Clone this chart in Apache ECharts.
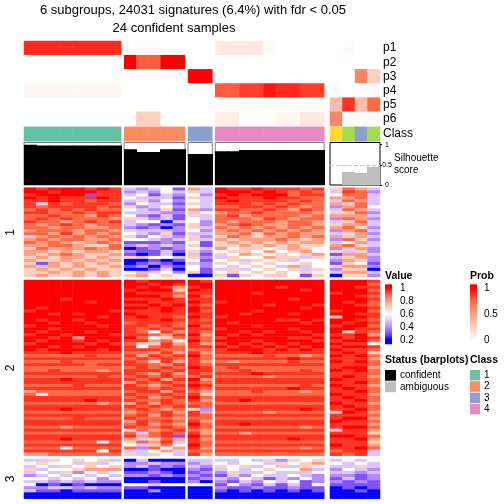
<!DOCTYPE html>
<html><head><meta charset="utf-8">
<script src="https://cdn.jsdelivr.net/npm/echarts@6/dist/echarts.min.js"></script>
<style>html,body{margin:0;padding:0;background:#fff}#c{width:504px;height:504px}</style>
</head><body><div id="c"></div>
<script>
// ---------------- DATA ----------------
const titleLine1 = '6 subgroups, 24031 signatures (6.4%) with fdr < 0.05';
const titleLine2 = '24 confident samples';
const sliceSizes = [8, 5, 2, 9, 4];
const probNames = ['p1', 'p2', 'p3', 'p4', 'p5', 'p6'];
const p1 = [0.9,0.9,0.9,0.9,0.9,0.9,0.9,0.9, 0,0.03,0.03,0,0, 0,0, 0.11,0.11,0.11,0.11,0.03,0,0,0,0, 0,0.03,0,0];
const p2 = [0,0,0,0,0,0,0,0, 1,0.78,0.78,1,1, 0,0, 0,0,0,0,0,0,0,0,0, 0,0,0,0];
const p3 = [0,0,0,0,0,0,0,0, 0,0,0,0,0, 1,1, 0,0,0,0,0,0,0,0,0, 0,0,0.62,0.25];
const p4 = [0.04,0.04,0.04,0.04,0.04,0.04,0.04,0.04, 0,0,0,0,0, 0,0, 0.78,0.78,0.85,0.85,0.95,0.9,0.9,0.85,0.85, 0.03,0,0,0.03];
const p5 = [0,0,0,0,0,0,0,0, 0,0,0,0,0, 0,0, 0,0,0,0,0,0,0,0,0, 0.35,0.88,0.35,0.74];
const p6 = [0,0,0,0,0,0,0,0, 0,0.25,0.25,0,0, 0,0, 0.09,0.09,0,0,0,0.05,0.05,0.11,0.11, 0.62,0.03,0.03,0.03];
const classes = [1,1,1,1,1,1,1,1, 2,2,2,2,2, 3,3, 4,4,4,4,4,4,4,4,4, 6,5,3,5];
const silhouette = [1,0.98,0.98,0.98,0.98,0.98,0.98,0.98, 0.89,0.82,0.82,0.89,0.89, 0.77,0.77, 0.84,0.84,0.87,0.87,0.87,0.87,0.87,0.87,0.87, 0,0.32,0.30,0.45];
const confident = [1,1,1,1,1,1,1,1, 1,1,1,1,1, 1,1, 1,1,1,1,1,1,1,1,1, 0,0,0,0];
// signature matrix, one string per row, one character per sample (levels below)
const levelValue = {'0':0.2,'1':0.3,'2':0.4,'3':0.5,'4':0.6,'5':0.7,'6':0.8,'7':0.9,'8':0.95,'9':1.0};
const section1 = [
"98999898 32341 63 988988878 5763",
"99899988 23243 53 999898787 3872",
"89999188 34132 42 898999788 4773",
"98988898 43331 53 988898877 6673",
"88988788 35242 43 898888787 3763",
"83878887 24331 53 888787877 6573",
"87888878 52342 43 778878767 2674",
"78787877 43251 62 887787687 3763",
"88778788 33322 34 677877776 5572",
"77877687 42131 53 786777767 6663",
"78787776 55231 43 777687677 2762",
"87767878 34403 42 767776776 3573",
"76787677 32121 52 678766776 5663",
"77677667 21202 53 767676767 6752",
"67776776 53332 42 676767676 2673",
"77686767 43251 33 667576766 3562",
"36767676 52432 52 576566767 6363",
"67677667 44323 53 656667656 2752",
"76765676 11121 41 565656566 3463",
"66776557 23232 51 556565655 6753",
"57666767 01212 43 645545654 2562",
"66565665 21131 52 455464564 5352",
"65676556 10130 31 546545456 1663",
"56566565 53443 52 354465535 3562",
"65565656 00101 41 453545344 2652",
"51656565 01210 32 545454454 1541",
"63656556 12021 42 434543634 5662",
"56565655 00130 41 353454535 2550",
"55656565 43542 51 454545454 3663",
"56556565 56454 00 515455415 0552"
];
const section2 = [
"99999999 98999 98 999999999 9998",
"99999999 99898 99 999999999 9997",
"99999999 98986 89 999998999 9988",
"99999999 89995 98 999999989 9997",
"99999999 98887 88 999899999 8998",
"99999999 99986 97 999999999 9987",
"99989999 88898 88 999999899 9998",
"99999899 99888 98 899999999 9897",
"99999999 88989 87 999989998 9987",
"98999999 99898 98 999999989 9998",
"89999998 88898 97 999899999 8997",
"99898999 98888 88 998999899 9988",
"99999989 89887 98 899999999 5998",
"98998999 88898 87 999998898 9987",
"99899899 78887 88 989999989 9898",
"89999989 88787 97 999899999 8997",
"99899999 87878 88 899999899 9988",
"98999899 87486 87 998989989 9587",
"89989998 88768 96 989899998 8896",
"99896999 97457 87 899999889 9898",
"98998989 88674 97 999899998 8997",
"89999898 75586 86 898989899 9884",
"99898999 84787 88 989898989 8998",
"98999989 88877 77 899989898 9887",
"88898888 77686 86 888988888 8985",
"77777877 86878 97 777787767 9897",
"88888888 78787 87 888888988 8886",
"77787777 87586 86 767777877 9897",
"88888788 88768 87 888888888 8887",
"77777777 78787 98 787777777 8996",
"77877767 88878 88 778777787 9897",
"88888888 87686 87 888988888 8887",
"77777787 78787 78 777767777 8986",
"88898888 87868 96 888888888 9887",
"88888888 68787 87 888888888 8897",
"77778777 87678 98 777777787 9886",
"88888888 88787 87 888888988 8987",
"67777777 78868 76 777877767 8897",
"74777777 87787 85 777777777 9886",
"88888888 78678 97 888888888 8987",
"88888988 87787 86 889888888 8897",
"77777767 68687 77 777777777 9886",
"88888888 87878 87 888888888 8987",
"88898888 78767 52 888888898 8897",
"77777777 67786 86 777767777 3986",
"88888888 78687 87 888888888 8887",
"77778777 87776 77 777777777 8996",
"88888888 68787 86 888888888 9887",
"88888888 78676 97 889888888 8886",
"77767777 87787 87 777777767 8997",
"88888888 57678 76 888888888 3886",
"77777777 73787 86 776777777 8885",
"88888888 86781 97 888888888 9987",
"88898888 63576 86 888888988 8896",
"77777747 57683 87 777777777 8885",
"88888888 43574 97 888888888 9886",
"77747777 72746 86 777777767 8897",
"88888848 33463 77 888888888 7883",
"66777777 53543 86 777777777 8783"
];
const section3 = [
"33545453 03000 33 334352545 3434",
"45443534 22322 23 434435456 4343",
"34354545 23121 32 545343354 3353",
"53445666 00100 21 343454463 2432",
"34352434 11210 12 253343334 3323",
"23434343 22121 21 132433432 2212",
"44343424 00000 12 324313242 1312",
"33232322 00100 20 213243412 2121",
"40101000 44344 44 142131314 1111",
"22332322 11000 00 211211211 0101",
"31101111 00200 00 101010101 0010",
"00000000 00000 00 000000000 0000",
"00000000 00000 00 000000000 0000"
];
const sectionLabels = ['1', '2', '3'];
const valueTicks = [1, 0.8, 0.6, 0.4, 0.2];
const probTicks = [1, 0.5, 0];
const classLegendLabels = ['1', '2', '3', '4'];
const statusLabels = ['confident', 'ambiguous'];
const silTicks = [0, 0.5, 1];

// ---------------- STYLE / LAYOUT ----------------
const FONT = '"Liberation Sans", Arial, Helvetica, sans-serif';
const valueColors = ['#0000FF','#7E51FF','#B38BFF','#DCC5FF','#FFFFFF','#FFCFBF','#FF9E81','#FF6846','#FF0000']; // 0.2..1.0
const probColors = ['#FFFFFF','#FFCFBF','#FF9E81','#FF6846','#FF0000']; // 0..1
const classColors = {1:'#66C2A5',2:'#FC8D62',3:'#8DA0CB',4:'#E78AC3',5:'#A6D854',6:'#FFD92F'};
const sliceLayout = [{left:24,width:97.2},{left:124.2,width:60.8},{left:188,width:24.3},{left:215.2,width:109},{left:330,width:50}];
const probBand = {top:41, height:85};
const classBand = {top:126.8, height:14.5};
const silBand = {top:142.5, height:42.5};
const sectionBands = [{top:187.7,height:89.3},{top:280,height:175.7},{top:459,height:39.7}];

const decode = rows => rows.map(r => r.replace(/\s/g,'').split('').map(ch => levelValue[ch]));
const sections = [decode(section1), decode(section2), decode(section3)];
const probs = [p1,p2,p3,p4,p5,p6];

const grids = [], xAxes = [], yAxes = [], series = [];
const valueIdx = [], probIdx = [], classIdx = [];

function addGrid(box, xData, yAxisOpt, gridExtra) {
  grids.push(Object.assign({left:box.left, top:box.top, width:box.width, height:box.height,
    containLabel:false, outerBoundsMode:'none', show:false}, gridExtra || {}));
  const gi = grids.length - 1;
  xAxes.push({type:'category', gridIndex:gi, data:xData, show:false});
  yAxes.push(Object.assign({gridIndex:gi, show:false}, yAxisOpt));
  return gi;
}
function heat(gi, data, tag) {
  series.push({type:'heatmap', xAxisIndex:gi, yAxisIndex:gi, data, progressive:0, silent:true,
    emphasis:{disabled:true}, itemStyle:{borderWidth:0}});
  tag.push(series.length - 1);
}
// silhouette bars: full-band rectangles from 0 to the value, via the axes' own scales
function silRender(params, api) {
  const base = api.coord([api.value(0), 0]);
  const top = api.coord([api.value(0), api.value(1)]);
  const w = api.size([1, 0])[0];
  const x0 = Math.floor(base[0] - w / 2);
  const x1 = Math.ceil(base[0] + w / 2);
  return {type:'rect', shape:{x:x0, y:top[1], width:x1 - x0, height:base[1] - top[1]},
    style:{fill: api.value(2) ? '#000000' : '#BEBEBE'}};
}

let cs = 0;
sliceSizes.forEach((n, s) => {
  const L = sliceLayout[s];
  const cols = Array.from({length:n}, (_, i) => String(cs + i));
  // probability rows
  let gi = addGrid({left:L.left, width:L.width, top:probBand.top, height:probBand.height}, cols,
    {type:'category', data:probNames, inverse:true});
  const pd = [];
  probs.forEach((arr, r) => { for (let c = 0; c < n; c++) pd.push([c, r, arr[cs + c]]); });
  heat(gi, pd, probIdx);
  // class row
  gi = addGrid({left:L.left, width:L.width, top:classBand.top, height:classBand.height}, cols,
    {type:'category', data:['Class']});
  const cd = [];
  for (let c = 0; c < n; c++) cd.push([c, 0, classes[cs + c]]);
  heat(gi, cd, classIdx);
  // silhouette
  const isAmb = s === 4;
  gi = addGrid({left:L.left, width:L.width, top:silBand.top, height:silBand.height}, cols,
    isAmb ? {type:'value', min:0, max:1.055, interval:0.5, show:true, position:'right',
      axisLine:{show:false}, splitLine:{show:false},
      axisTick:{show:true, inside:false, length:2, customValues:silTicks, lineStyle:{color:'#000', width:1}},
      axisLabel:{show:true, customValues:silTicks, fontSize:7, color:'#000', margin:7, align:'center', fontFamily:FONT}}
    : {type:'value', min:0, max:1.055},
    {show:true, borderColor: isAmb ? '#000' : '#808080', borderWidth:1, backgroundColor:'#fff'});
  const sd = [];
  for (let c = 0; c < n; c++) sd.push([c, silhouette[cs + c], confident[cs + c]]);
  const bar = {type:'custom', xAxisIndex:gi, yAxisIndex:gi, data:sd, renderItem:silRender, clip:true, silent:true, z:3,
    encode:{x:0, y:1}};
  series.push(bar);
  if (isAmb) series.push({type:'line', xAxisIndex:gi, yAxisIndex:gi, data:[], silent:true, z:1,
    markLine:{silent:true, symbol:['none','none'], label:{show:false},
      lineStyle:{type:'dashed', color:'#C8C8C8', width:1}, data:[{yAxis:0.5}]}});
  // signature sections
  sections.forEach((mat, k) => {
    const B = sectionBands[k];
    const rows = mat.map((_, i) => String(i));
    const g2 = addGrid({left:L.left, width:L.width, top:B.top, height:B.height}, cols,
      {type:'category', data:rows, inverse:true});
    const d = [];
    mat.forEach((row, r) => { for (let c = 0; c < n; c++) d.push([c, r, row[cs + c]]); });
    heat(g2, d, valueIdx);
  });
  cs += n;
});

// ---------------- GRAPHIC TEXT / LEGENDS ----------------
function txt(x, y, text, st, extra) {
  return Object.assign({type:'text', x, y, silent:true, z:10,
    style:Object.assign({text, fill:'#000', fontSize:12, fontFamily:FONT, textAlign:'left', textVerticalAlign:'middle'}, st || {})}, extra || {});
}
function rect(x, y, w, h, fill) {
  return {type:'rect', silent:true, z:10, shape:{x, y, width:w, height:h}, style:{fill}};
}
const els = [];
els.push(txt(193, 10.5, titleLine1, {fontSize:13, textAlign:'center'}));
els.push(txt(174, 28.5, titleLine2, {fontSize:13, textAlign:'center'}));
const rowH = probBand.height / probNames.length;
probNames.forEach((p, i) => els.push(txt(383, probBand.top + rowH * (i + 0.5), p)));
els.push(txt(383, classBand.top + classBand.height / 2, 'Class'));
els.push(txt(394, 158.3, 'Silhouette', {fontSize:10}));
els.push(txt(394, 170, 'score', {fontSize:10}));
sectionLabels.forEach((lab, k) => {
  const B = sectionBands[k];
  els.push(txt(10.5, B.top + B.height / 2, lab, {textAlign:'center'}, {rotation:Math.PI / 2}));
});
// Value legend
const lgTop = 284.3, lgH = 60, tick0 = 288, tickSpan = 52;
els.push(txt(385, 275.7, 'Value', {fontSize:10.5, fontWeight:'bold'}));
const vStops = [{offset:0, color:'#FF0000'}];
valueColors.slice().reverse().forEach((col, i) => {
  const v = 1 - i * 0.1;
  vStops.push({offset:(tick0 - lgTop + (1 - v) / 0.8 * tickSpan) / lgH, color:col});
});
vStops.push({offset:1, color:'#0000FF'});
els.push(rect(385, lgTop, 7, lgH, new echarts.graphic.LinearGradient(0, 0, 0, 1, vStops)));
valueTicks.forEach(v => els.push(txt(400, tick0 + (1 - v) / 0.8 * tickSpan, String(v), {fontSize:10})));
// Prob legend
els.push(txt(470, 275.7, 'Prob', {fontSize:10.5, fontWeight:'bold'}));
const pStops = [{offset:0, color:'#FF0000'}];
probColors.slice().reverse().forEach((col, i) => {
  const v = 1 - i * 0.25;
  pStops.push({offset:(tick0 - lgTop + (1 - v) * tickSpan) / lgH, color:col});
});
pStops.push({offset:1, color:'#FFFFFF'});
els.push(rect(470, lgTop, 7, lgH, new echarts.graphic.LinearGradient(0, 0, 0, 1, pStops)));
probTicks.forEach(v => els.push(txt(484, tick0 + (1 - v) * tickSpan, String(v), {fontSize:10})));
// Status legend
els.push(txt(385, 360, 'Status (barplots)', {fontSize:10.5, fontWeight:'bold'}));
const statusColors = ['#000000', '#BEBEBE'];
statusLabels.forEach((lab, i) => {
  els.push(rect(385, 370 + i * 11.5, 11, 10.7, statusColors[i]));
  els.push(txt(400, 375.3 + i * 11.5, lab, {fontSize:10}));
});
// Class legend
els.push(txt(470, 360, 'Class', {fontSize:10.5, fontWeight:'bold'}));
classLegendLabels.forEach((lab, i) => {
  els.push(rect(470, 370 + i * 11.3, 10, 10.5, classColors[+lab]));
  els.push(txt(484, 375.3 + i * 11.3, lab, {fontSize:10}));
});

const option = {
  animation:false,
  grid:grids, xAxis:xAxes, yAxis:yAxes, series,
  visualMap:[
    {type:'continuous', show:false, min:0.2, max:1, seriesIndex:valueIdx, dimension:2, inRange:{color:valueColors}},
    {type:'continuous', show:false, min:0, max:1, seriesIndex:probIdx, dimension:2, inRange:{color:probColors}},
    {type:'piecewise', show:false, seriesIndex:classIdx, dimension:2,
      pieces:Object.keys(classColors).map(k => ({value:+k, color:classColors[k]}))}
  ],
  graphic:{elements:els}
};
const chart = echarts.init(document.getElementById('c'), null, {renderer:'canvas', width:504, height:504});
chart.setOption(option);
</script>
</body></html>
